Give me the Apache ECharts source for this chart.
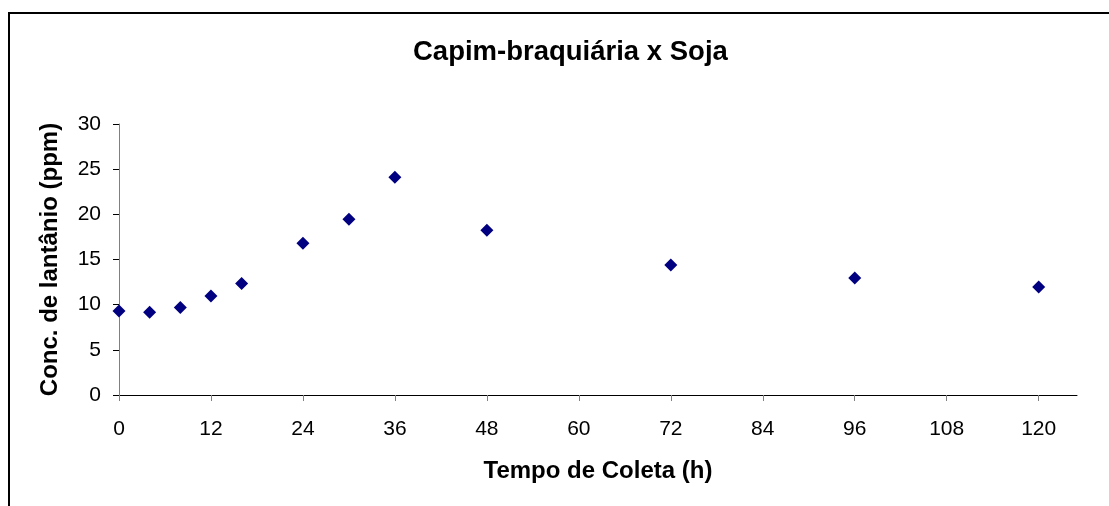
<!DOCTYPE html>
<html>
<head>
<meta charset="utf-8">
<script src="https://cdn.jsdelivr.net/npm/echarts@6/dist/echarts.min.js"></script>
<style>
  html, body { margin: 0; padding: 0; background: #fff; }
  #main { width: 1109px; height: 506px; }
</style>
</head>
<body>
<div id="main"></div>
<script>
// dados
var tempoHoras = [0, 4, 8, 12, 16, 24, 30, 36, 48, 72, 96, 120];
var concLantanio = [9.3, 9.15, 9.7, 10.95, 12.35, 16.8, 19.45, 24.1, 18.25, 14.4, 12.95, 11.95];
var xTicks = [0, 12, 24, 36, 48, 60, 72, 84, 96, 108, 120];
var yTicks = [0, 5, 10, 15, 20, 25, 30];

var pontos = tempoHoras.map(function (t, i) { return [t, concLantanio[i]]; });

var fonte = 'Liberation Sans, Arial, sans-serif';
var myChart = echarts.init(document.getElementById('main'));

var option = {
    backgroundColor: '#fff',
    animation: false,
    title: {
        text: 'Capim-braquiária x Soja',
        left: 408,
        top: 33,
        textStyle: { fontFamily: fonte, fontSize: 27.5, fontWeight: 'bold', color: '#000' }
    },
    grid: { left: 119, right: 32, top: 124, bottom: 111, outerBoundsMode: 'none' },
    // moldura (só aparecem as bordas de cima e da esquerda)
    graphic: [
        { type: 'line', shape: { x1: 9, y1: 13, x2: 1109, y2: 13 }, style: { stroke: '#000', lineWidth: 2 } },
        { type: 'line', shape: { x1: 9, y1: 12, x2: 9, y2: 506 }, style: { stroke: '#000', lineWidth: 2 } }
    ],
    xAxis: {
        type: 'value',
        min: 0,
        max: 125,
        interval: 12,
        name: 'Tempo de Coleta (h)',
        nameLocation: 'middle',
        nameGap: 64,
        nameTextStyle: { fontFamily: fonte, fontSize: 24, fontWeight: 'bold', color: '#000' },
        splitLine: { show: false },
        axisLine: { lineStyle: { color: '#000', width: 1 } },
        axisTick: { customValues: xTicks, length: 6, lineStyle: { color: '#808080' } },
        axisLabel: { customValues: xTicks, margin: 24, fontFamily: fonte, fontSize: 21, color: '#000' }
    },
    yAxis: {
        type: 'value',
        min: 0,
        max: 30,
        interval: 5,
        name: 'Conc. de lantânio (ppm)',
        nameLocation: 'middle',
        nameGap: 57,
        nameTextStyle: { fontFamily: fonte, fontSize: 24, fontWeight: 'bold', color: '#000' },
        splitLine: { show: false },
        axisLine: { show: true, lineStyle: { color: '#808080', width: 1 } },
        axisTick: { show: true, customValues: yTicks, length: 6, lineStyle: { color: '#000' } },
        axisLabel: { customValues: yTicks, margin: 18, fontFamily: fonte, fontSize: 21, color: '#000' }
    },
    series: [{
        type: 'scatter',
        data: pontos,
        symbol: 'diamond',
        symbolSize: 13,
        itemStyle: { color: '#000080', opacity: 1 }
    }]
};
myChart.setOption(option);
</script>
</body>
</html>
